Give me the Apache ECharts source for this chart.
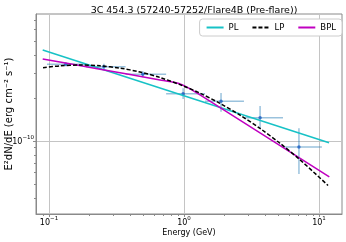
<!DOCTYPE html>
<html><head><meta charset="utf-8">
<script src="https://cdn.jsdelivr.net/npm/echarts@6/dist/echarts.min.js"></script>
<style>html,body{margin:0;padding:0;background:#fff}#c{width:346px;height:242px}</style>
</head><body><div id="c"></div>
<script>
// ---- axis ticks ----
const xTickValues = [0.1, 1, 10];
const xTickLabels = ['{b|10}{s|\u22121}', '{b|10}{s|0}', '{b|10}{s|1}'];
const xMinorTicks = [0.09, 0.2, 0.3, 0.4, 0.5, 0.6, 0.7, 0.8, 0.9, 2, 3, 4, 5, 6, 7, 8, 9];
const yTickValues = [1e-10];
const yTickLabels = ['{b|10}{s|\u221210}'];
const yMinorTicks = [4e-11, 5e-11, 6e-11, 7e-11, 8e-11, 9e-11, 2e-10, 3e-10, 4e-10, 5e-10, 6e-10, 7e-10];

// ---- data points (energy GeV, E2dN/dE erg cm^-2 s^-1) ----
const dataE   = [0.133, 0.255, 0.495, 0.985, 1.88, 3.66, 7.1];
const dataF   = [3.44e-10, 3.31e-10, 2.93e-10, 2.14e-10, 1.90e-10, 1.456e-10, 0.908e-10];
const dataElo = [0.0966, 0.188, 0.369, 0.737, 1.43, 2.78, 5.41];
const dataEhi = [0.188, 0.369, 0.737, 1.43, 2.78, 5.41, 10.5];
const dataFlo = [3.33e-10, 3.15e-10, 2.79e-10, 1.97e-10, 1.60e-10, 1.23e-10, 0.588e-10];
const dataFhi = [3.55e-10, 3.47e-10, 3.07e-10, 2.34e-10, 2.17e-10, 1.76e-10, 1.23e-10];

// ---- model curves ----
const plE  = [0.0898, 11.86];
const plF  = [4.33e-10, 0.973e-10];
const lpE  = [0.0903, 0.1206, 0.1698, 0.2387, 0.3357, 0.4721, 0.664, 0.983, 1.314, 1.849, 2.600, 3.656, 5.14, 7.23, 11.66];
const lpF  = [3.254e-10, 3.356e-10, 3.40e-10, 3.356e-10, 3.234e-10, 3.038e-10, 2.780e-10, 2.432e-10, 2.159e-10, 1.832e-10, 1.517e-10, 1.225e-10, 0.964e-10, 0.739e-10, 0.489e-10];
const bplE = [0.0898, 0.2387, 0.664, 0.858, 0.983, 1.127, 1.314, 3.656, 11.92];
const bplF = [3.745e-10, 3.178e-10, 2.675e-10, 2.561e-10, 2.456e-10, 2.299e-10, 2.104e-10, 1.139e-10, 0.561e-10];

const FONT = 'DejaVu Sans';
const AX = '#8a8a8a';
const xMin = 0.0801, xMax = 14.8, yMin = 3.087e-11, yMax = 7.73e-10;

const pair = (a, b) => a.map((v, i) => [v, b[i]]);
const errData = dataE.map((e, i) => [e, dataF[i], dataElo[i], dataEhi[i], dataFlo[i], dataFhi[i]]);
const rich = {
  b: {fontSize: 8, fontFamily: FONT, color: '#000', lineHeight: 10, verticalAlign: 'bottom'},
  s: {fontSize: 5.5, fontFamily: FONT, color: '#000', lineHeight: 6, verticalAlign: 'bottom', padding: [0, 0, 5, 0]}
};

const chart = echarts.init(document.getElementById('c'), null, {renderer: 'canvas'});
chart.setOption({
  animation: false,
  backgroundColor: '#fff',
  title: {
    text: '3C 454.3 (57240-57252/Flare4B (Pre-flare))',
    left: 189, top: 1, textAlign: 'center',
    textStyle: {fontFamily: FONT, fontSize: 9.5, fontWeight: 'normal', color: '#000'}
  },
  grid: {left: 36, right: 4, top: 14, bottom: 28, outerBoundsMode: 'none', containLabel: false,
         show: true, borderColor: AX, borderWidth: 1, backgroundColor: 'transparent'},
  legend: {
    data: ['PL', 'LP', 'BPL'],
    right: 4, top: 19,
    itemWidth: 17, itemHeight: 8, itemGap: 13,
    padding: [4, 6, 4, 6],
    itemStyle: {opacity: 0},
    borderColor: '#cccccc', borderWidth: 1, borderRadius: 3, backgroundColor: '#fff',
    textStyle: {fontFamily: FONT, fontSize: 8.5, color: '#000'}
  },
  xAxis: [{
    type: 'log', logBase: 10, min: xMin, max: xMax,
    name: 'Energy (GeV)', nameLocation: 'middle', nameGap: 15, nameMoveOverlap: false,
    nameTextStyle: {fontFamily: FONT, fontSize: 8, color: '#000'},
    axisLine: {show: true, lineStyle: {color: AX, width: 1}},
    axisTick: {show: true, customValues: xTickValues, length: 3, lineStyle: {color: AX}},
    axisLabel: {
      customValues: xTickValues, margin: 3,
      formatter: v => { const i = xTickValues.findIndex(t => Math.abs(t - v) / t < 1e-6); return i < 0 ? '' : xTickLabels[i]; },
      rich: rich
    },
    splitLine: {show: true, lineStyle: {color: '#c4c4c4', width: 1}}
  }, {
    type: 'log', logBase: 10, min: xMin, max: xMax, position: 'bottom',
    axisLine: {show: false}, axisLabel: {show: false}, splitLine: {show: false},
    axisTick: {show: true, customValues: xMinorTicks, length: 2, lineStyle: {color: AX}}
  }],
  yAxis: [{
    type: 'log', logBase: 10, min: yMin, max: yMax,
    name: 'E\u00b2dN/dE (erg cm\u207b\u00b2 s\u207b\u00b9)', nameLocation: 'middle', nameGap: 22, nameMoveOverlap: false,
    nameTextStyle: {fontFamily: FONT, fontSize: 10, color: '#000'},
    axisLine: {show: true, lineStyle: {color: AX, width: 1}},
    axisTick: {show: true, customValues: yTickValues, length: 3, lineStyle: {color: AX}},
    axisLabel: {
      customValues: yTickValues, margin: 2,
      formatter: v => { const i = yTickValues.findIndex(t => Math.abs(t - v) / t < 1e-6); return i < 0 ? '' : yTickLabels[i]; },
      rich: rich
    },
    splitLine: {show: true, lineStyle: {color: '#c4c4c4', width: 1}}
  }, {
    type: 'log', logBase: 10, min: yMin, max: yMax, position: 'left',
    axisLine: {show: false}, axisLabel: {show: false}, splitLine: {show: false},
    axisTick: {show: true, customValues: yMinorTicks, length: 2, lineStyle: {color: AX}}
  }],
  series: [
    {
      type: 'custom', name: 'errors', z: 1, silent: true,
      encode: {x: [0, 2, 3], y: [1, 4, 5]},
      data: errData,
      renderItem: function (params, api) {
        const c = api.coord([api.value(0), api.value(1)]);
        const xl = api.coord([api.value(2), api.value(1)]);
        const xh = api.coord([api.value(3), api.value(1)]);
        const yl = api.coord([api.value(0), api.value(4)]);
        const yh = api.coord([api.value(0), api.value(5)]);
        const st = {stroke: 'rgba(31,119,180,0.45)', lineWidth: 1.5};
        return {type: 'group', children: [
          {type: 'line', shape: {x1: xl[0], y1: c[1], x2: xh[0], y2: c[1]}, style: st},
          {type: 'line', shape: {x1: c[0], y1: yl[1], x2: c[0], y2: yh[1]}, style: st}
        ]};
      }
    },
    {
      type: 'scatter', name: 'points', z: 2, symbol: 'circle', symbolSize: 3.5,
      itemStyle: {color: '#1f5fc4'}, data: pair(dataE, dataF)
    },
    {
      type: 'line', name: 'PL', z: 3, showSymbol: false, symbol: 'none',
      lineStyle: {color: '#17c2c6', width: 1.5}, itemStyle: {color: '#17c2c6'},
      data: pair(plE, plF)
    },
    {
      type: 'line', name: 'LP', z: 4, showSymbol: false, symbol: 'none', smooth: 0.3,
      lineStyle: {color: '#000', width: 1.5, type: [4, 2]}, itemStyle: {color: '#000'},
      data: pair(lpE, lpF)
    },
    {
      type: 'line', name: 'BPL', z: 3, showSymbol: false, symbol: 'none', smooth: 0.2,
      lineStyle: {color: '#c000c0', width: 1.5}, itemStyle: {color: '#c000c0'},
      data: pair(bplE, bplF)
    }
  ]
});
</script>
</body></html>
